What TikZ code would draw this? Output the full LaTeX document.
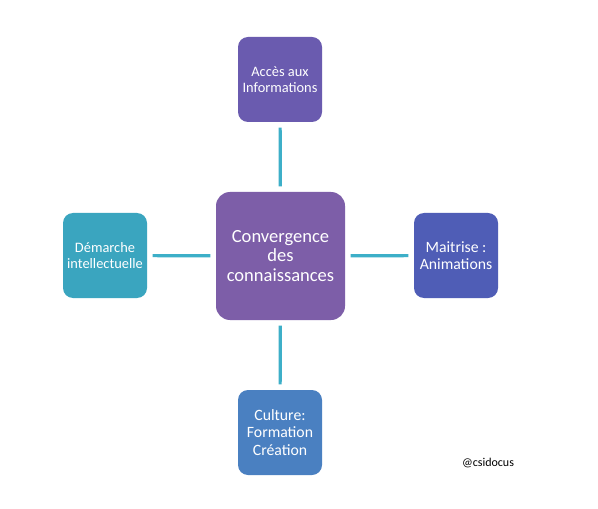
\documentclass[tikz,border=0pt]{standalone}
\usepackage{fontspec}
\setmainfont{Carlito}
\usetikzlibrary{positioning}

\definecolor{topcol}{HTML}{6A5BAF}
\definecolor{midcol}{HTML}{7D5EA8}
\definecolor{leftcol}{HTML}{3AA5BF}
\definecolor{rightcol}{HTML}{4F5DB6}
\definecolor{botcol}{HTML}{4A80C1}
\definecolor{linkcol}{HTML}{3DAFC8}

\tikzset{
  mapbox/.style={rounded corners=7.5pt, align=center, text=white, minimum width=63pt, minimum height=63.75pt, inner sep=2pt, font=\fontsize{10.8}{11.8}\selectfont},
  mapbig/.style={mapbox, font=\fontsize{11.8}{13}\selectfont},
  mapcore/.style={rounded corners=10.5pt, align=center, text=white, minimum width=96.75pt, minimum height=96pt, inner sep=2pt, font=\fontsize{13.9}{14.4}\selectfont, fill=midcol},
  maplink/.style={draw=linkcol, line width=2.4pt, shorten >=4pt, shorten <=4pt},
  mapnote/.style={font=\fontsize{9}{11}\selectfont, text=black}
}

\begin{document}
\begin{tikzpicture}[x=0.75pt,y=-0.75pt]
        \fill[white] (0,0) rectangle (598,509);
        \useasboundingbox (0,0) rectangle (598,509);

        \node[mapcore] (core) at (280.5,256) {Convergence\\des\\connaissances};

        \node[mapbox, fill=topcol] (acces) at (280,79.5) {Accès aux\\Informations};
        \node[mapbox, fill=leftcol] (demarche) at (105,255.5) {Démarche\\intellectuelle};
        \node[mapbig, fill=rightcol] (maitrise) at (456,255.5) {Maitrise :\\Animations};
        \node[mapbig, fill=botcol] (culture) at (280,432.5) {Culture:\\Formation\\Création};

        \draw[maplink] (acces) -- (core);
        \draw[maplink] (demarche) -- (core);
        \draw[maplink] (maitrise) -- (core);
        \draw[maplink] (culture) -- (core);

        \node[mapnote] (credit) at (488,463) {@csidocus};
    \end{tikzpicture}
\end{document}
